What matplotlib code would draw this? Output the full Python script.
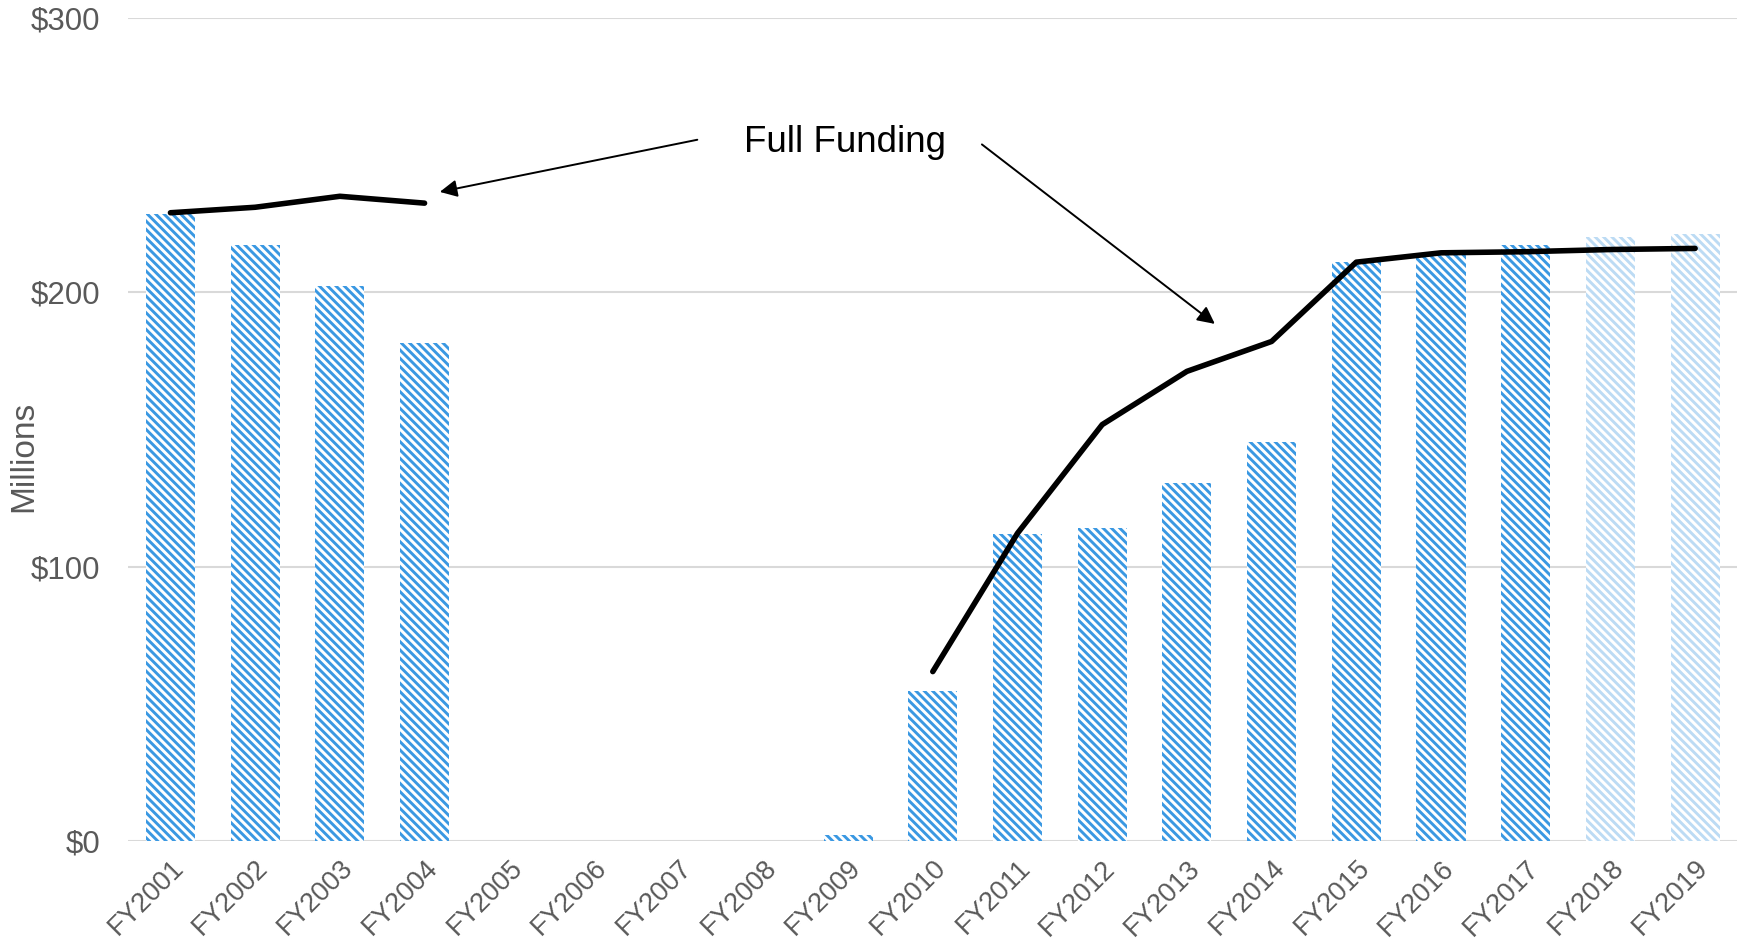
import numpy as np
import matplotlib.pyplot as plt

plt.rcParams['font.family'] = ['Liberation Sans', 'DejaVu Sans']
plt.rcParams['hatch.linewidth'] = 2.1

years = ['FY2001', 'FY2002', 'FY2003', 'FY2004', 'FY2005', 'FY2006', 'FY2007',
         'FY2008', 'FY2009', 'FY2010', 'FY2011', 'FY2012', 'FY2013', 'FY2014',
         'FY2015', 'FY2016', 'FY2017', 'FY2018', 'FY2019']
appropriated = [228.5, 217.2, 202.3, 181.7, 0, 0, 0, 0, 2.4, 54.9, 111.8, 114.3,
                130.4, 145.3, 211.1, 214.0, 217.2, 220.0, 221.2]
# full funding line, two separate stretches
ff_early = [229.0, 231.0, 235.0, 232.5]
ff_late = [61.8, 112.2, 151.8, 171.2, 182.1, 211.0, 214.4, 214.8, 215.6, 216.0]

dark_blue = '#3a98e2'
light_blue = '#bcdbf4'
grey = '#595959'

x = np.arange(len(years))
colors = [dark_blue] * 17 + [light_blue] * 2

fig = plt.figure(figsize=(17.38, 9.42), dpi=100)
ax = fig.add_axes([0.0737, 0.107, 0.926, 0.874])

for xi, v, c in zip(x, appropriated, colors):
    ax.bar(xi, v, width=0.58, color='white', edgecolor=c, linewidth=0,
           hatch='\\\\\\\\', zorder=2)

ax.plot(x[:4], ff_early, color='black', lw=4.0, solid_capstyle='round',
        solid_joinstyle='round', zorder=3)
ax.plot(x[9:], ff_late, color='black', lw=4.0, solid_capstyle='round',
        solid_joinstyle='round', zorder=3)

ax.text(7.96, 254.5, 'Full Funding', fontsize=26.5, ha='center', va='center')
arrow = dict(arrowstyle='-|>', color='black', lw=1.4, mutation_scale=26,
             shrinkA=0, shrinkB=0)
ax.annotate('', xy=(3.18, 236.6), xytext=(6.22, 255.6), arrowprops=arrow)
ax.annotate('', xy=(12.33, 188.5), xytext=(9.58, 253.9), arrowprops=arrow)

ax.set_xlim(-0.5, 18.5)
ax.set_ylim(0, 300)
ax.set_yticks([0, 100, 200, 300])
ax.set_yticklabels(['$0', '$100', '$200', '$300'])
ax.set_xticks(x)
ax.set_xticklabels(years, rotation=45, ha='right', rotation_mode='anchor')
ax.tick_params(axis='y', length=0, pad=20, labelsize=22.5, labelcolor=grey)
ax.tick_params(axis='x', length=0, pad=10, labelsize=19.5, labelcolor=grey)
ax.set_ylabel('Millions', fontsize=24, color=grey)
ax.yaxis.set_label_coords(-0.055, 0.468)

ax.grid(axis='y', color='#d9d9d9', lw=1.5, zorder=0)
ax.set_axisbelow(True)
for s in ax.spines.values():
    s.set_visible(False)

fig.savefig('out.png', dpi=100)
